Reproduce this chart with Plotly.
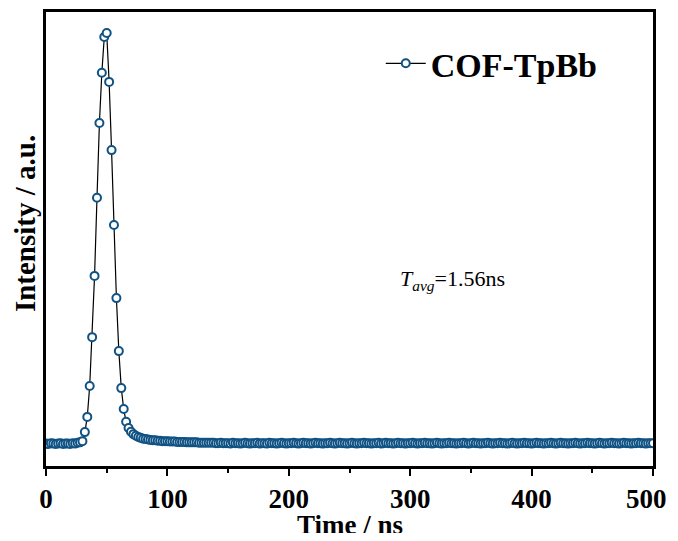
import plotly.graph_objects as go

# Time channels (ns), 2 ns spacing
time_ns = list(range(0, 501, 2))

# Normalized decay intensity
intensity_rise = [0.001, 0.000, 0.002, 0.001, 0.000, 0.001, 0.002, 0.000, 0.001, 0.001,
                  0.000, 0.002, 0.001, 0.003, 0.004]
intensity_peak = [0.007, 0.029, 0.066, 0.141, 0.260, 0.409, 0.599, 0.781, 0.903, 0.990,
                  1.000, 0.881, 0.715, 0.533, 0.355, 0.226, 0.136, 0.085, 0.054, 0.039]
intensity_decay = [0.030, 0.024, 0.020, 0.017, 0.015, 0.013, 0.012, 0.011, 0.010, 0.009,
                   0.009, 0.008, 0.008, 0.007, 0.007,
                   0.007, 0.006, 0.006, 0.006, 0.005, 0.005, 0.005, 0.005, 0.004, 0.004,
                   0.004, 0.004, 0.004, 0.003, 0.003, 0.003, 0.003, 0.003, 0.003, 0.003,
                   0.002, 0.002, 0.003, 0.002, 0.002]
intensity_tail = [
    0.002, 0.001, 0.003, 0.002, 0.002, 0.001, 0.002, 0.003, 0.002, 0.001,
    0.002, 0.002, 0.003, 0.001, 0.002, 0.002, 0.001, 0.003, 0.002, 0.002,
    0.001, 0.002, 0.003, 0.002, 0.001, 0.002, 0.002, 0.003, 0.002, 0.001,
    0.002, 0.003, 0.002, 0.002, 0.001, 0.002, 0.003, 0.002, 0.002, 0.001,
    0.002, 0.002, 0.003, 0.002, 0.001, 0.002, 0.003, 0.002, 0.002, 0.001,
    0.002, 0.003, 0.002, 0.001, 0.002, 0.002, 0.003, 0.002, 0.002, 0.001,
    0.002, 0.002, 0.003, 0.001, 0.002, 0.003, 0.002, 0.002, 0.001, 0.002,
    0.003, 0.002, 0.002, 0.001, 0.002, 0.002, 0.003, 0.002, 0.001, 0.002,
    0.002, 0.003, 0.002, 0.002, 0.001, 0.002, 0.003, 0.002, 0.001, 0.002,
    0.002, 0.003, 0.002, 0.002, 0.001, 0.002, 0.002, 0.003, 0.002, 0.001,
    0.002, 0.003, 0.002, 0.002, 0.001, 0.002, 0.002, 0.003, 0.002, 0.001,
    0.002, 0.002, 0.003, 0.002, 0.002, 0.001, 0.002, 0.003, 0.002, 0.001,
    0.002, 0.002, 0.003, 0.002, 0.002, 0.001, 0.002, 0.003, 0.002, 0.002,
    0.001, 0.002, 0.002, 0.003, 0.002, 0.001, 0.002, 0.003, 0.002, 0.002,
    0.001, 0.002, 0.002, 0.003, 0.002, 0.001, 0.002, 0.002, 0.003, 0.002,
    0.002, 0.001, 0.002, 0.003, 0.002, 0.001, 0.002, 0.002, 0.003, 0.002,
    0.002, 0.001, 0.002, 0.003, 0.002, 0.002, 0.001, 0.002, 0.002, 0.003,
    0.002, 0.002, 0.001, 0.002, 0.002, 0.002]

intensity = intensity_rise + intensity_peak + intensity_decay + intensity_tail

x_ticks = [0, 100, 200, 300, 400, 500]
series_name = "COF-TpBb"
tavg_label = "<i>T</i><sub><i>avg</i></sub>=1.56ns"
y_title = "Intensity / a.u."
x_title = "Time / ns"

FONT = "Liberation Serif"
BLUE = "#0f5283"

# last label padded with non-breaking spaces so it stays inside the page edge
x_ticktext = [str(v) for v in x_ticks]
x_ticktext[-1] = x_ticktext[-1] + "\u00a0\u00a0"

fig = go.Figure()
fig.add_trace(go.Scatter(
    x=time_ns, y=intensity, name=series_name, mode="lines+markers",
    line=dict(color="black", width=1.2),
    marker=dict(symbol="circle", size=8, color="white",
                line=dict(color=BLUE, width=2)),
))

fig.add_annotation(x=0.58, y=0.41, xref="paper", yref="paper",
                   text=tavg_label, showarrow=False, xanchor="left", yanchor="middle",
                   font=dict(family=FONT, size=22, color="black"))

fig.add_annotation(x=-0.0346, y=0.535, xref="paper", yref="paper",
                   text=y_title, showarrow=False, textangle=-90,
                   xanchor="center", yanchor="middle",
                   font=dict(family=FONT, size=29, color="black", weight="bold"))

fig.add_annotation(x=0.5, y=-0.13, xref="paper", yref="paper",
                   text=x_title, showarrow=False,
                   xanchor="center", yanchor="middle",
                   font=dict(family=FONT, size=27, color="black", weight="bold"))

fig.update_layout(
    width=662, height=525,
    margin=dict(l=38, r=17, t=4, b=67),
    plot_bgcolor="white", paper_bgcolor="white",
    font=dict(family=FONT, color="black"),
    showlegend=True,
    legend=dict(x=0.5515, y=0.95, xanchor="left", yanchor="top",
                bgcolor="rgba(0,0,0,0)",
                font=dict(family=FONT, size=34, color="black", weight="bold"),
                itemwidth=40),
    xaxis=dict(range=[0, 500], tickvals=x_ticks, ticktext=x_ticktext,
               ticks="outside", ticklen=7, tickwidth=2, tickcolor="black",
               minor=dict(dtick=50, ticks="outside", ticklen=4, tickwidth=2, tickcolor="black"),
               showline=True, linecolor="black", linewidth=2.5, mirror=True,
               showgrid=False, zeroline=False, automargin=False,
               ticklabeloverflow="allow",
               tickfont=dict(family=FONT, size=27, color="black", weight="bold")),
    yaxis=dict(range=[-0.0535, 1.051], showticklabels=False, ticks="",
               showline=True, linecolor="black", linewidth=2.5, mirror=True,
               showgrid=False, zeroline=False, automargin=False),
)

fig.write_html("out.html", config={"displayModeBar": False})
